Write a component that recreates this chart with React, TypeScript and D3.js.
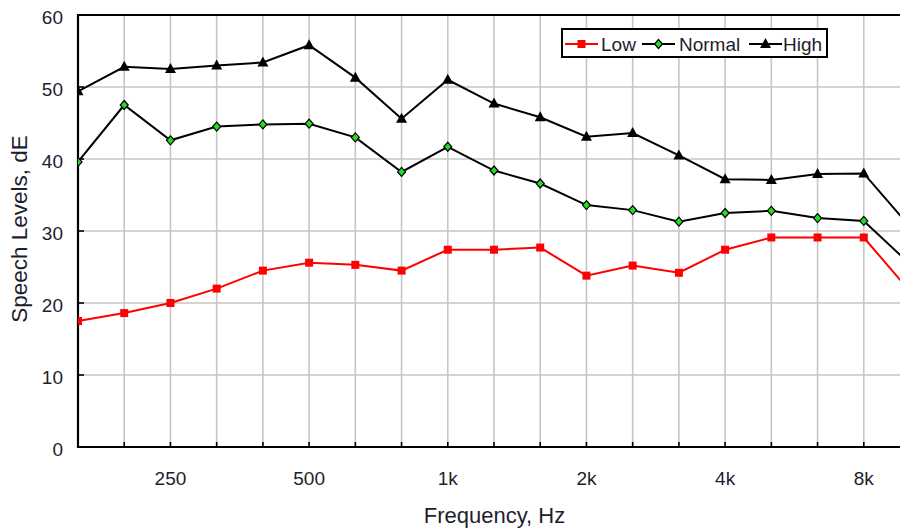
import React from "react";
import * as d3 from "d3";

const bands = ["160", "200", "250", "315", "400", "500", "630", "800", "1k", "1.25k", "1.6k", "2k", "2.5k", "3.15k", "4k", "5k", "6.3k", "8k", "10k"];
const tickLabels = ["250", "500", "1k", "2k", "4k", "8k"];
const low = [17.5, 18.6, 20.0, 22.0, 24.5, 25.6, 25.3, 24.5, 27.4, 27.4, 27.7, 23.8, 25.2, 24.2, 27.4, 29.1, 29.1, 29.1, 21.6];
const normal = [39.6, 47.5, 42.6, 44.5, 44.8, 44.9, 43.0, 38.2, 41.7, 38.4, 36.6, 33.6, 32.9, 31.3, 32.5, 32.8, 31.8, 31.4, 25.4];
const high = [49.4, 52.8, 52.5, 53.0, 53.4, 55.8, 51.3, 45.6, 51.0, 47.7, 45.8, 43.1, 43.6, 40.5, 37.2, 37.1, 37.9, 38.0, 30.6];
const yTicks = [0, 10, 20, 30, 40, 50, 60];

const W = 900, H = 529;
const L = 78, T = 15, B = 447, R = 910;
const FONT = "'Liberation Sans', Arial, sans-serif";
const TXT = "#1e1e2e";

export default function App() {
  const x = d3.scalePoint<string>().domain(bands).range([L, R]).padding(0);
  const y = d3.scaleLinear().domain([0, 60]).range([B, T]);
  const line = d3.line<number>().x((_, i) => x(bands[i])!).y(d => y(d));

  const square = (cx: number, cy: number, k: string) => (
    <rect key={k} x={cx - 4} y={cy - 4} width={8} height={8} fill="#ff0000" />
  );
  const diamond = (cx: number, cy: number, k: string) => (
    <path key={k} d={`M${cx},${cy - 4.5}L${cx + 4},${cy}L${cx},${cy + 4.5}L${cx - 4},${cy}Z`} fill="#22dd22" stroke="#000" strokeWidth={1.2} />
  );
  const tri = (cx: number, cy: number, k: string) => (
    <path key={k} d={`M${cx},${cy - 6}L${cx + 5.5},${cy + 4}L${cx - 5.5},${cy + 4}Z`} fill="#000" />
  );

  const series = [
    { name: "Low", data: low, color: "#ff0000", marker: square },
    { name: "Normal", data: normal, color: "#000", marker: diamond },
    { name: "High", data: high, color: "#000", marker: tri },
  ];

  const legendItems = [
    { s: series[0], lx: 565, tx: 601 },
    { s: series[1], lx: 642, tx: 679 },
    { s: series[2], lx: 749, tx: 783 },
  ];

  return (
    <svg width={W} height={H} style={{ position: "absolute", left: 0, top: 0, background: "#fff" }} fontFamily={FONT}>
      <defs>
        <clipPath id="plot">
          <rect x={L} y={T - 8} width={R - L + 20} height={B - T + 16} />
        </clipPath>
      </defs>
      {/* grid */}
      {bands.map(b => (
        <line key={"gx" + b} x1={x(b)} x2={x(b)} y1={T} y2={B} stroke="#c6c6c6" strokeWidth={1.6} />
      ))}
      {yTicks.map(t => (
        <line key={"gy" + t} x1={L} x2={W} y1={y(t)} y2={y(t)} stroke="#c6c6c6" strokeWidth={1.6} />
      ))}
      {/* ticks */}
      {bands.map(b => (
        <line key={"tx" + b} x1={x(b)} x2={x(b)} y1={B} y2={B - 5} stroke="#000" strokeWidth={1.6} />
      ))}
      {yTicks.map(t => (
        <line key={"ty" + t} x1={L} x2={L + 6} y1={y(t)} y2={y(t)} stroke="#000" strokeWidth={1.6} />
      ))}
      {/* axes */}
      <line x1={L} x2={W} y1={T} y2={T} stroke="#000" strokeWidth={2} />
      <line x1={L} x2={W} y1={B} y2={B} stroke="#000" strokeWidth={2.2} />
      <line x1={L} x2={L} y1={T - 1} y2={B + 1} stroke="#000" strokeWidth={2.2} />
      {/* series */}
      <g clipPath="url(#plot)">
        {series.map(s => (
          <g key={s.name}>
            <path d={line(s.data)!} fill="none" stroke={s.color} strokeWidth={2} />
            {s.data.map((v, i) => s.marker(x(bands[i])!, y(v), s.name + i))}
          </g>
        ))}
      </g>
      {/* y labels */}
      {yTicks.map(t => (
        <text key={"yl" + t} x={63} y={y(t) + 8.5} textAnchor="end" fontSize={19} fill={TXT}>{t}</text>
      ))}
      {tickLabels.map(t => (
        <text key={"xl" + t} x={x(t)} y={485} textAnchor="middle" fontSize={19} fill={TXT}>{t}</text>
      ))}
      <text x={494.5} y={523} textAnchor="middle" fontSize={22} fill={TXT}>Frequency, Hz</text>
      <text transform={`translate(27,${229}) rotate(-90)`} textAnchor="middle" fontSize={22.5} fill={TXT}>Speech Levels, dE</text>
      {/* legend */}
      <rect x={562} y={29} width={265} height={28} fill="#fff" stroke="#000" strokeWidth={2} />
      {legendItems.map(({ s, lx, tx }) => (
        <g key={"lg" + s.name}>
          <line x1={lx} x2={lx + 33} y1={44} y2={44} stroke={s.color} strokeWidth={2} />
          {s.marker(lx + 16.5, 44, "lm" + s.name)}
          <text x={tx} y={51} fontSize={19} fill={TXT}>{s.name}</text>
        </g>
      ))}
    </svg>
  );
}
